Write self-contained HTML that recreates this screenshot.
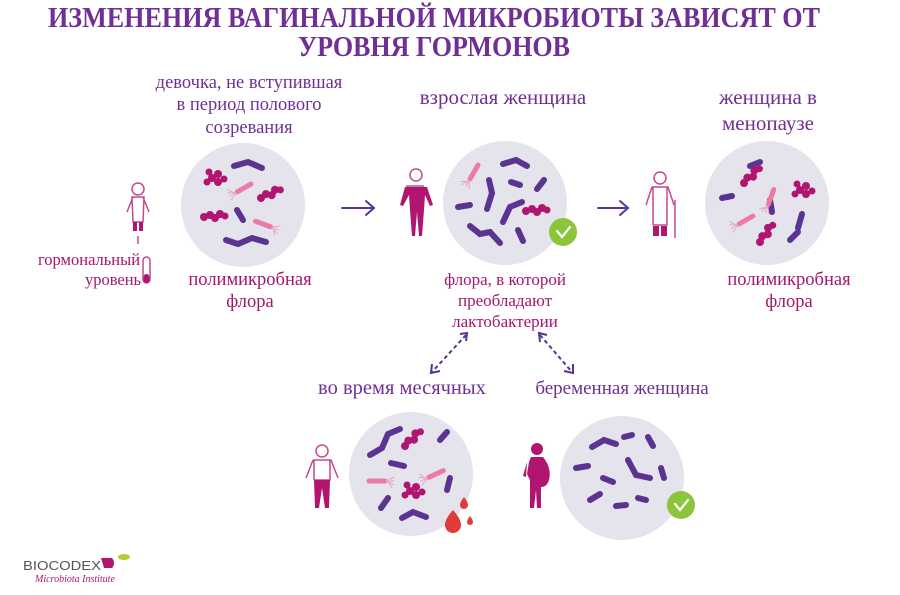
<!DOCTYPE html>
<html><head><meta charset="utf-8"><style>
html,body{margin:0;padding:0;background:#fff;}
svg{display:block;}
text{font-family:"Liberation Serif",serif;}
</style></head><body>
<svg width="900" height="595" viewBox="0 0 900 595" xmlns="http://www.w3.org/2000/svg">
<defs>
<g id="rod"><line x1="-9" y1="0" x2="9" y2="0" stroke="#5a3490" stroke-width="6" stroke-linecap="round"/></g>
<g id="pinkrod"><line x1="-8" y1="0" x2="8" y2="0" stroke="#ec7aa8" stroke-width="5" stroke-linecap="round"/><path d="M-9 0 l-8 -4 M-9 0 l-8 0 M-9 0 l-8 4 M-12 -2 l-3 -5" stroke="#e9a2c0" stroke-width="1" fill="none"/></g>
<g id="coccus" fill="#b0156f"><circle cx="0" cy="0" r="4"/><circle cx="6" cy="-2" r="4"/><circle cx="11" cy="1" r="4"/><circle cx="16" cy="-3" r="4"/><circle cx="21" cy="-1" r="3.5"/></g>
<g id="cluster" fill="#b0156f"><circle cx="0" cy="0" r="4"/><circle cx="6" cy="-4" r="4"/><circle cx="6" cy="4" r="4"/><circle cx="-5" cy="4" r="3.5"/><circle cx="-3" cy="-6" r="3.5"/><circle cx="12" cy="1" r="3.5"/></g>
<g id="check"><circle r="14" fill="#8cc43c"/><path d="M-6 -1 L-1 5 L7 -5" stroke="#fff" stroke-width="2.2" fill="none" stroke-linecap="round"/></g>
</defs>

<!-- Title -->
<text x="434" y="27" text-anchor="middle" font-size="29" font-weight="bold" fill="#6f2f95" textLength="772" lengthAdjust="spacingAndGlyphs">ИЗМЕНЕНИЯ ВАГИНАЛЬНОЙ МИКРОБИОТЫ ЗАВИСЯТ ОТ</text>
<text x="434" y="56" text-anchor="middle" font-size="29" font-weight="bold" fill="#6f2f95" textLength="272" lengthAdjust="spacingAndGlyphs">УРОВНЯ ГОРМОНОВ</text>

<!-- Section labels -->
<g fill="#6f2f95" text-anchor="middle">
<text x="249" y="88" font-size="18.5">девочка, не вступившая</text>
<text x="249" y="110" font-size="18.5">в период полового</text>
<text x="249" y="133" font-size="18.5">созревания</text>
<text x="503" y="104" font-size="21">взрослая женщина</text>
<text x="768" y="104" font-size="21">женщина в</text>
<text x="768" y="130" font-size="21">менопаузе</text>
<text x="402" y="394" font-size="20.5">во время месячных</text>
<text x="622" y="394" font-size="19">беременная женщина</text>
</g>
<g fill="#a5166c" text-anchor="middle">
<text x="250" y="285" font-size="18.5">полимикробная</text>
<text x="250" y="307" font-size="18.5">флора</text>
<text x="505" y="285" font-size="17">флора, в которой</text>
<text x="505" y="306" font-size="17">преобладают</text>
<text x="505" y="327" font-size="17">лактобактерии</text>
<text x="789" y="285" font-size="18.5">полимикробная</text>
<text x="789" y="307" font-size="18.5">флора</text>
<text x="89" y="265" font-size="16.5">гормональный</text>
<text x="113" y="285" font-size="16.5">уровень</text>
</g>

<!-- Arrows -->
<g stroke="#5a3490" stroke-width="2" fill="none" stroke-linecap="round">
<path d="M342 208 H374 M366 201 L374 208 L366 215"/>
<path d="M598 208 H628 M620 201 L628 208 L620 215"/>
</g>
<g stroke="#5a3490" stroke-width="2" fill="none" stroke-dasharray="4 3">
<path d="M466 335 L432 372"/>
<path d="M540 335 L572 372"/>
</g>
<g stroke="#5a3490" stroke-width="2" fill="none">
<path d="M460 334 L467 333 L466 341"/><path d="M432 364 L431 373 L440 371"/>
<path d="M540 342 L539 333 L547 335"/><path d="M564 371 L573 373 L573 364"/>
</g>

<!-- Circles -->
<g fill="#e5e3ec">
<circle cx="243" cy="205" r="62"/>
<circle cx="505" cy="203" r="62"/>
<circle cx="767" cy="203" r="62"/>
<circle cx="411" cy="474" r="62"/>
<circle cx="622" cy="478" r="62"/>
</g>

<!-- circle 1 bacteria -->
<g stroke="#5a3490" stroke-width="6" stroke-linecap="round" fill="none">
<polyline points="234,166 248,162 262,168"/>
<line x1="237" y1="210" x2="243" y2="220"/>
<polyline points="226,240 238,244 252,238 266,242"/>
</g>
<use href="#cluster" x="212" y="178"/>
<use href="#coccus" x="204" y="217"/>
<use href="#coccus" x="261" y="198" transform="rotate(-20 261 198)"/>
<use href="#pinkrod" transform="translate(244 188) rotate(-30)"/>
<use href="#pinkrod" transform="translate(263 224) rotate(-160)"/>

<!-- circle 2 bacteria -->
<g stroke="#5a3490" stroke-width="6" stroke-linecap="round" fill="none">
<polyline points="503,164 516,160 527,166"/>
<line x1="511" y1="182" x2="520" y2="185"/>
<line x1="537" y1="189" x2="544" y2="180"/>
<polyline points="489,180 492,193 487,209"/>
<line x1="458" y1="207" x2="470" y2="205"/>
<polyline points="503,222 510,207 522,202"/>
<polyline points="470,226 480,234 490,232 500,243"/>
<line x1="518" y1="230" x2="523" y2="241"/>
</g>
<use href="#coccus" x="526" y="211"/>
<use href="#pinkrod" transform="translate(474 172) rotate(-60)"/>
<use href="#check" x="563" y="232"/>

<!-- circle 3 bacteria -->
<g stroke="#5a3490" stroke-width="6" stroke-linecap="round" fill="none">
<line x1="750" y1="166" x2="760" y2="162"/>
<line x1="722" y1="198" x2="732" y2="196"/>
<line x1="770" y1="200" x2="772" y2="212"/>
<line x1="802" y1="214" x2="798" y2="228"/>
<line x1="790" y1="240" x2="798" y2="232"/>
</g>
<use href="#coccus" x="744" y="183" transform="rotate(-40 744 183)"/>
<use href="#cluster" x="800" y="190"/>
<use href="#coccus" x="760" y="242" transform="rotate(-50 760 242)"/>
<use href="#pinkrod" transform="translate(771 197) rotate(-70)"/>
<use href="#pinkrod" transform="translate(746 220) rotate(-30)"/>

<!-- circle 4 bacteria -->
<g stroke="#5a3490" stroke-width="6" stroke-linecap="round" fill="none">
<polyline points="370,455 382,448 388,434 400,429"/>
<line x1="440" y1="440" x2="447" y2="432"/>
<line x1="391" y1="463" x2="404" y2="466"/>
<line x1="447" y1="490" x2="450" y2="478"/>
<line x1="381" y1="508" x2="388" y2="498"/>
<polyline points="402,518 413,512 426,517"/>
</g>
<use href="#coccus" x="405" y="446" transform="rotate(-40 405 446)"/>
<use href="#cluster" x="410" y="491"/>
<use href="#pinkrod" transform="translate(377 481) rotate(180)"/>
<use href="#pinkrod" transform="translate(436 474) rotate(-25)"/>
<g fill="#e03a3a"><path d="M453 510 q8 9 8 15 a8 8 0 0 1 -16 0 q0 -6 8 -15z"/><path d="M464 497 q4 5 4 8 a4 4 0 0 1 -8 0 q0 -3 4 -8z"/><path d="M470 516 q3 4 3 6 a3 3 0 0 1 -6 0 q0 -2 3 -6z"/></g>

<!-- circle 5 bacteria -->
<g stroke="#5a3490" stroke-width="6" stroke-linecap="round" fill="none">
<polyline points="592,447 604,440 616,444"/>
<line x1="624" y1="437" x2="632" y2="435"/>
<line x1="648" y1="437" x2="653" y2="446"/>
<line x1="576" y1="468" x2="588" y2="466"/>
<polyline points="628,460 636,475 650,478"/>
<line x1="603" y1="478" x2="613" y2="482"/>
<line x1="661" y1="468" x2="664" y2="478"/>
<line x1="590" y1="500" x2="600" y2="494"/>
<line x1="616" y1="506" x2="626" y2="505"/>
<line x1="638" y1="498" x2="646" y2="500"/>
</g>
<use href="#check" x="681" y="505"/>

<!-- child -->
<g stroke="#c44a8f" stroke-width="1.5" fill="none">
<circle cx="138" cy="189" r="6"/>
<path d="M133 197 L127 212 M143 197 L149 212 M132 197 H144 L143 222 H133 Z"/>
<line x1="138" y1="236" x2="138" y2="244"/>
<rect x="143" y="257" width="7" height="26" rx="3.5"/>
</g>
<g fill="#b0156f"><rect x="133" y="222" width="4" height="9"/><rect x="139" y="222" width="4" height="9"/><rect x="143.5" y="274" width="6" height="9" rx="3"/></g>

<!-- adult woman -->
<g stroke="#c44a8f" stroke-width="1.5" fill="none"><circle cx="416" cy="175" r="6"/><path d="M406 186 L424 186"/></g>
<g fill="#b0156f"><path d="M405 187 H427 L433 205 L430 206 L425 195 L424 210 L422 236 H419 L417 212 L415 236 H412 L410 210 L409 195 L403 206 L400 205 Z"/></g>

<!-- menopause woman -->
<g stroke="#c44a8f" stroke-width="1.5" fill="none"><circle cx="660" cy="178" r="6"/><path d="M652 187 H668 L674 205 M652 187 L646 205 M653 187 V225 M667 187 V225 H653 M675 200 V238"/></g>
<g fill="#b0156f"><rect x="653" y="226" width="6" height="10"/><rect x="661" y="226" width="6" height="10"/></g>

<!-- menstrual woman -->
<g stroke="#c44a8f" stroke-width="1.5" fill="none"><circle cx="322" cy="451" r="6"/><path d="M313 460 H331 L338 478 M313 460 L306 478 M314 460 V480 M330 460 V480 H314"/></g>
<g fill="#b0156f"><path d="M314 480 H330 L329 508 H325 L322 488 L319 508 H315 Z"/></g>

<!-- pregnant woman -->
<g fill="#b0156f"><circle cx="537" cy="449" r="6"/><path d="M531 457 H543 Q552 468 549 480 Q547 487 541 487 L541 508 H537 L536 490 L534 508 H530 L530 480 L527 474 L529 462 Z"/><path d="M527 462 L523 476 L526 477 Z"/></g>

<!-- logo -->
<text x="23" y="570" font-size="13" fill="#555" textLength="78" lengthAdjust="spacingAndGlyphs" style="font-family:'Liberation Sans',sans-serif">BIOCODEX</text>
<path d="M101 558 H112 Q116 563 112 568 H104 Z" fill="#b0156f"/>
<ellipse cx="124" cy="557" rx="6" ry="3" fill="#b5cc2e"/>
<text x="35" y="582" font-size="10" font-style="italic" fill="#b0156f">Microbiota Institute</text>
</svg>
</body></html>
